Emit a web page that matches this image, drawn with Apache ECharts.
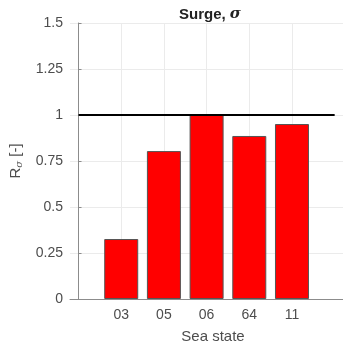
<!DOCTYPE html>
<html>
<head>
<meta charset="utf-8">
<script src="https://cdn.jsdelivr.net/npm/echarts@6/dist/echarts.min.js"></script>
<style>
  html, body { margin: 0; padding: 0; background: #fff; }
  #chart { width: 343px; height: 346px; }
</style>
</head>
<body>
<div id="chart"></div>
<script>
// Sea-state labels and surge response ratio per sea state
const seaStates = ['03', '05', '06', '64', '11'];
const ratioValues = [0.326, 0.804, 1.0, 0.886, 0.951];
// Reference level drawn across the bars
const referenceLevel = 1;
const referenceSpan = [0, 6];
const yTicks = [0, 0.25, 0.5, 0.75, 1, 1.25, 1.5];

const positions = seaStates.map((_, i) => i + 1);
const FONT = '"Liberation Sans", Arial, sans-serif';
const TEXT = '#4d4d4d';

const chart = echarts.init(document.getElementById('chart'), null, { renderer: 'canvas' });

chart.setOption({
  animation: false,
  backgroundColor: '#ffffff',
  textStyle: { fontFamily: FONT },
  title: {
    text: '{b|Surge, }{i|σ}',
    left: 174,
    top: 2,
    textStyle: {
      rich: {
        b: { fontFamily: FONT, fontWeight: 'bold', fontSize: 15, color: '#222' },
        i: { fontFamily: '"DejaVu Serif", serif', fontStyle: 'italic', fontSize: 15, color: '#222' }
      }
    }
  },
  grid: { left: 70, top: 23, bottom: 47, right: -13, outerBoundsMode: 'none', containLabel: false },
  xAxis: {
    type: 'value',
    min: -0.2,
    max: 6.5,
    name: 'Sea state',
    nameLocation: 'middle',
    nameGap: 30,
    nameTextStyle: { fontSize: 15, color: TEXT, fontFamily: FONT },
    axisLine: { show: true, onZero: false, lineStyle: { color: '#8c8c8c', width: 1 } },
    axisTick: { show: true, inside: true, length: 3, customValues: positions, lineStyle: { color: '#8c8c8c' } },
    axisLabel: {
      customValues: positions,
      formatter: v => seaStates[Math.round(v) - 1] || '',
      fontSize: 14, color: TEXT, margin: 9
    },
    splitLine: { show: true, lineStyle: { color: '#ebebeb', width: 1 } }
  },
  yAxis: {
    type: 'value',
    min: 0,
    max: 1.5,
    interval: 0.25,
    name: 'R{sub|σ} [-]',
    nameLocation: 'middle',
    nameRotate: 90,
    nameGap: 44,
    nameTextStyle: {
      fontSize: 15, color: TEXT, fontFamily: FONT,
      rich: {
        sub: { fontSize: 10, fontStyle: 'italic', color: TEXT, fontFamily: '"DejaVu Serif", serif', padding: [8, 0, 0, 0] }
      }
    },
    axisLine: { show: true, lineStyle: { color: '#8c8c8c', width: 1 } },
    axisTick: { show: true, inside: true, length: 3, lineStyle: { color: '#8c8c8c' } },
    axisLabel: {
      formatter: v => String(yTicks.find(t => Math.abs(t - v) < 1e-9) ?? v),
      fontSize: 14, color: TEXT, margin: 7
    },
    splitLine: { show: true, lineStyle: { color: '#ebebeb', width: 1 } }
  },
  series: [
    {
      type: 'bar',
      data: positions.map((p, i) => [p, ratioValues[i]]),
      barWidth: 34,
      itemStyle: { color: '#ff0000', borderColor: '#555555', borderWidth: 1 },
      z: 2
    },
    {
      type: 'line',
      data: referenceSpan.map(x => [x, referenceLevel]),
      symbol: 'none',
      lineStyle: { color: '#000000', width: 2 },
      z: 3
    }
  ]
});
</script>
</body>
</html>
